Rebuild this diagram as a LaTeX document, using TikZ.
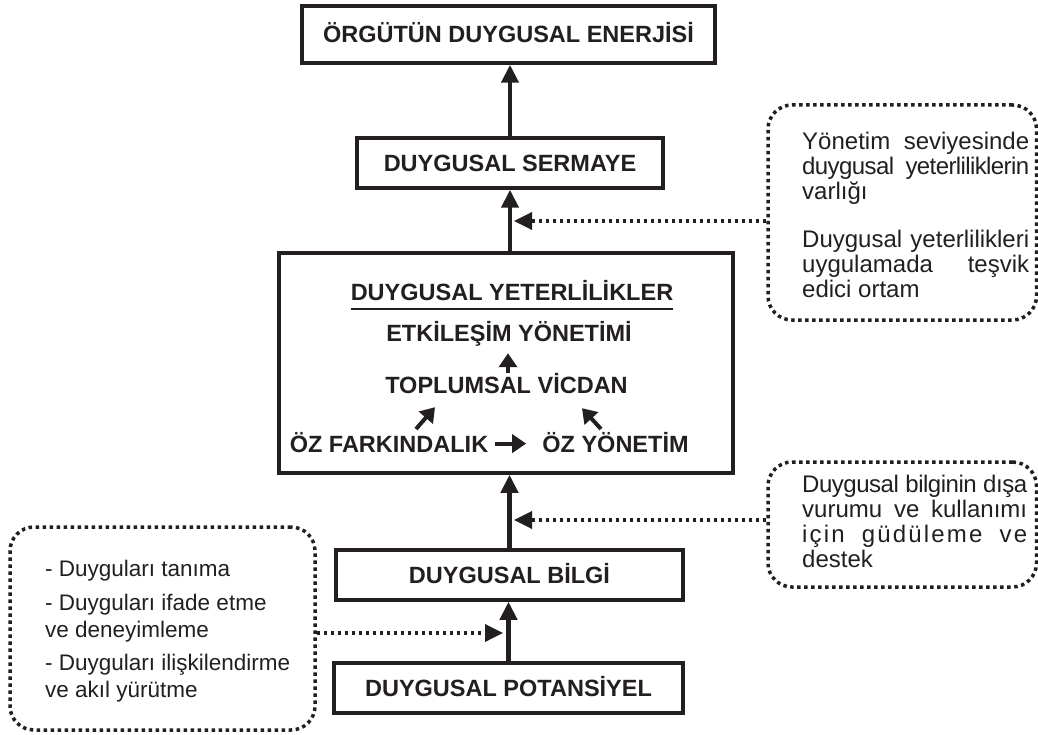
\documentclass[tikz,border=0pt]{standalone}
\usepackage{fontspec}
\setmainfont{Liberation Sans}
\usetikzlibrary{arrows.meta,calc}
\definecolor{ink}{RGB}{35,31,32}
\tikzset{
  box/.style={draw=ink, line width=3.5pt, inner sep=0pt, text=ink,
    font=\bfseries\fontsize{23.5}{27}\selectfont, text height=16.8pt, text depth=0pt},
  bigbox/.style={draw=ink, line width=3.5pt, inner sep=0pt},
  dotbox/.style={draw=ink, line width=3.5pt, dash pattern=on 3.5pt off 3.5pt,
    rounded corners=24pt, inner sep=0pt},
  lbl/.style={inner sep=0pt, anchor=base, text=ink,
    font=\bfseries\fontsize{23.5}{27}\selectfont, text height=16.8pt, text depth=0pt},
  up/.style={draw=ink, line width=4.2pt, -{Triangle[length=18pt,width=17pt]}},
  inup/.style={draw=ink, line width=4pt, -{Triangle[length=14pt,width=18pt]}},
  dotarr/.style={draw=ink, line width=3.5pt, dash pattern=on 3.5pt off 3.5pt,
    -{Triangle[length=18pt,width=17pt]}},
  note/.style={inner sep=0pt, anchor=base west, text=ink},
}
\begin{document}
\begin{tikzpicture}[x=1pt,y=-1pt]
\useasboundingbox (0,0) rectangle (1038,735);
\fill[white] (0,0) rectangle (1038,735);

% main chain of boxes
\node[box, minimum width=413pt, minimum height=57pt] (en) at (508.5,34.5) {ÖRGÜTÜN DUYGUSAL ENERJİSİ};
\node[box, minimum width=306pt, minimum height=50pt] (se) at (510,163) {DUYGUSAL SERMAYE};
\node[bigbox, minimum width=454pt, minimum height=220pt] (ye) at (506,363) {};
\node[box, minimum width=347pt, minimum height=50pt] (bi) at (509.5,575) {DUYGUSAL BİLGİ};
\node[box, minimum width=349pt, minimum height=50pt] (po) at (508.5,688) {DUYGUSAL POTANSİYEL};

% contents of the competences box
\node[lbl] (yt) at (512,300) {DUYGUSAL YETERLİLİKLER};
\draw[ink, line width=2pt] ($(yt.base west)+(0,9)$) -- ($(yt.base east)+(0,9)$);
\node[lbl] (et) at (509,341) {ETKİLEŞİM YÖNETİMİ};
\node[lbl] (tv) at (506.5,393) {TOPLUMSAL VİCDAN};
\node[lbl] (fa) at (389,452) {ÖZ FARKINDALIK};
\node[lbl] (oy) at (615.5,452) {ÖZ YÖNETİM};

\draw[inup] ($(tv.north)+(1.5,-3)$) -- ($(et.south)+(-1,12)$);
\draw[inup] ($(fa.north)+(27,-6)$) -- ($(tv.south)+(-71.5,14)$);
\draw[inup] ($(oy.north)+(-14.5,-6)$) -- ($(tv.south)+(75.5,15)$);
\draw[inup] ($(fa.east)+(7,0)$) -- ($(oy.west)+(-16,0)$);

% upward arrows between the boxes
\draw[up] (se.north) -- (se.north |- en.south);
\draw[up] (se.south |- ye.north) -- (se.south);
\draw[up] (bi.north) -- (bi.north |- ye.south);
\draw[up] (po.north) -- (po.north |- bi.south);

% dotted side boxes
\node[dotbox, minimum width=268.5pt, minimum height=215pt] (r1) at (902.25,212.5) {};
\node[dotbox, minimum width=268.5pt, minimum height=125pt] (r2) at (902.25,524.5) {};
\node[dotbox, minimum width=305pt, minimum height=203pt] (l1) at (162.5,628.5) {};

\coordinate (j1) at (514,221);
\coordinate (j2) at (514,520);
\coordinate (j3) at (503,633);
\draw[dotarr] (r1.west |- j1) -- (j1);
\draw[dotarr] (r2.west |- j2) -- (j2);
\draw[dotarr] (l1.east |- j3) -- (j3);

% side texts
\node[note] (t1) at (802,150) {\parbox[t]{227pt}{\fontsize{24}{25}\selectfont
\makebox[\linewidth][s]{Yönetim seviyesinde}\\
\makebox[\linewidth][s]{\addfontfeature{LetterSpace=-2.5}duygusal yeterliliklerin}\\
varlığı\\[23pt]
\makebox[\linewidth][s]{Duygusal yeterlilikleri}\\
\makebox[\linewidth][s]{uygulamada teşvik}\\
edici ortam}};

\node[note] (t2) at (802,492) {\parbox[t]{225pt}{\fontsize{24}{25}\selectfont
\makebox[\linewidth][s]{\addfontfeature{LetterSpace=-2}Duygusal bilginin dışa}\\
\makebox[\linewidth][s]{vurumu ve kullanımı}\\
\makebox[\linewidth][s]{\addfontfeature{LetterSpace=9}için güdüleme ve}\\
destek}};

\node[note] (t3) at (45,576) {\parbox[t]{268pt}{\fontsize{22.5}{27}\selectfont
- Duyguları tanıma\\[7pt]
- Duyguları ifade etme\\
ve deneyimleme\\[6pt]
- Duyguları ilişkilendirme\\
ve akıl yürütme}};
\end{tikzpicture}
\end{document}
